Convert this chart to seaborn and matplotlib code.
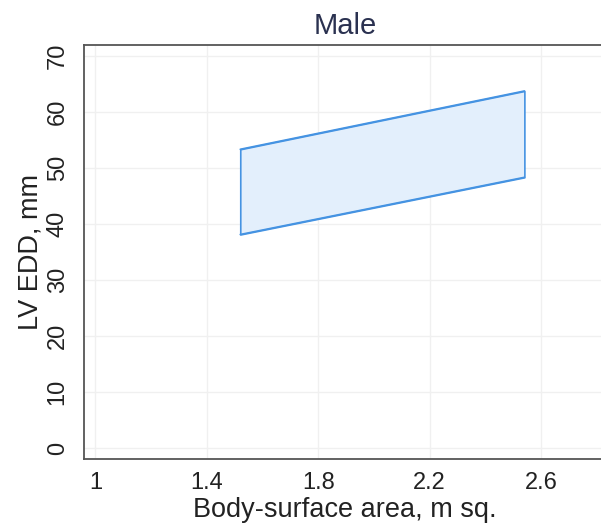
import matplotlib
matplotlib.use('Agg')
import matplotlib.pyplot as plt
import seaborn as sns

# reference band for LV end-diastolic diameter vs body-surface area
bsa = [1.52, 2.54]
lower = [38.1, 48.3]
upper = [53.3, 63.7]

x_ticks = [1, 1.4, 1.8, 2.2, 2.6]
x_tick_labels = ['1', '1.4', '1.8', '2.2', '2.6']
y_ticks = [0, 10, 20, 30, 40, 50, 60, 70]

sns.set_style('white')
plt.rcParams['font.family'] = ['Liberation Sans', 'DejaVu Sans']

fig = plt.figure(figsize=(6.01, 5.32), dpi=100)
ax = fig.add_axes([84 / 601, 1 - 459.3 / 532, 522 / 601, (459.3 - 45) / 532])

edge = '#4593e2'
ax.fill_between(bsa, lower, upper, facecolor='#e3effc', edgecolor=edge, linewidth=1.2, zorder=2)
sns.lineplot(x=bsa, y=lower, color=edge, linewidth=1.2, ax=ax, zorder=3)
sns.lineplot(x=bsa, y=upper, color=edge, linewidth=1.2, ax=ax, zorder=3)

ax.set_xlim(0.959, 2.833)
ax.set_ylim(-2.0, 71.9)
ax.set_xticks(x_ticks)
ax.set_xticklabels(x_tick_labels)
ax.set_yticks(y_ticks)
ax.tick_params(axis='both', direction='out', length=5, width=1, color='#666666',
               labelsize=17, labelcolor='#222222', pad=4)
ax.tick_params(axis='y', pad=6)
for lbl in ax.get_yticklabels():
    lbl.set_rotation(90)
    lbl.set_va('center')

ax.grid(True, color='#f0f0f0', linewidth=1)
ax.set_axisbelow(True)
for side in ['left', 'bottom', 'top']:
    ax.spines[side].set_color('#555555')
    ax.spines[side].set_linewidth(1.3)
ax.spines['right'].set_visible(False)

ax.set_xlabel('Body-surface area, m sq.', fontsize=19.5, color='#222222', labelpad=2)
ax.set_ylabel('LV EDD, mm', fontsize=19.5, color='#222222', labelpad=2)
ax.set_title('Male', fontsize=21, color='#2a3150', pad=8)

fig.savefig('out.png', dpi=100)
